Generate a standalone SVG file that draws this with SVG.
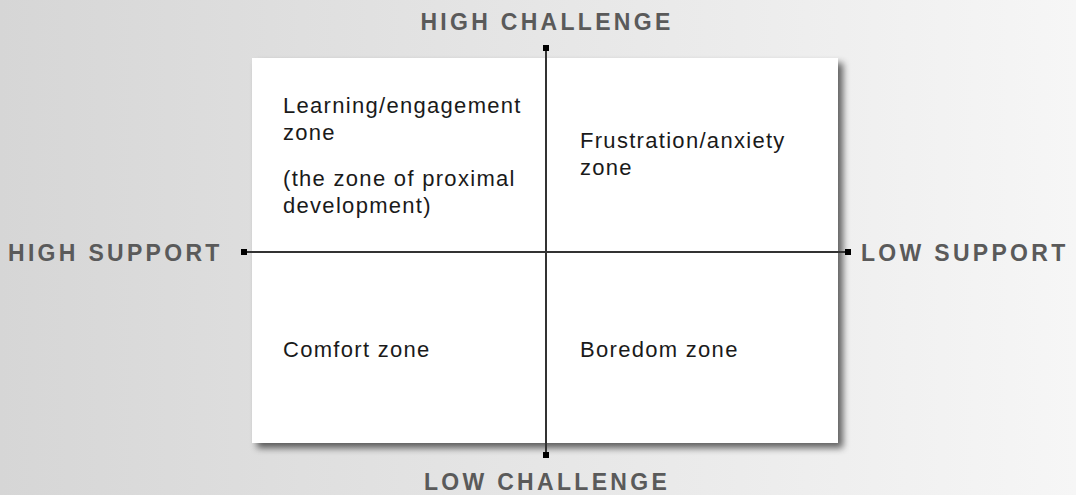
<svg xmlns="http://www.w3.org/2000/svg" width="1076" height="495" viewBox="0 0 1076 495">
<defs>
<linearGradient id="bg" x1="0" y1="0" x2="1" y2="0">
<stop offset="0" stop-color="#d6d6d6"/>
<stop offset="1" stop-color="#f6f6f6"/>
</linearGradient>
<filter id="sh" x="-5%" y="-5%" width="115%" height="115%">
<feGaussianBlur in="SourceAlpha" stdDeviation="3.5"/>
<feOffset dx="5" dy="5" result="b"/>
<feComponentTransfer><feFuncA type="linear" slope="0.6"/></feComponentTransfer>
<feMerge><feMergeNode/><feMergeNode in="SourceGraphic"/></feMerge>
</filter>
<marker id="sq" viewBox="0 0 6 6" refX="3" refY="3" markerWidth="6" markerHeight="6" markerUnits="userSpaceOnUse"><rect width="6" height="6" fill="#000"/></marker>
</defs>
<style>
.ax{font-family:"Liberation Sans",Arial,sans-serif;font-weight:bold;font-size:23px;letter-spacing:3.3px;fill:#5a5a5a}
.q{font-family:"Liberation Sans",Arial,sans-serif;font-size:22px;letter-spacing:1.3px;fill:#1a1a1a}
.ln{stroke:#333;stroke-width:2;fill:none;marker-start:url(#sq);marker-end:url(#sq)}
</style>
<rect width="1076" height="495" fill="url(#bg)"/>
<g id="grid">
<rect x="252" y="58" width="586" height="385" fill="#fff" filter="url(#sh)"/>
</g>
<g id="connectors">
<line class="ln" x1="546" y1="48" x2="546" y2="455"/>
<line class="ln" x1="244" y1="252" x2="848" y2="252"/>
</g>
<g id="axis-top"><text class="ax" x="547" y="30" text-anchor="middle">HIGH CHALLENGE</text></g>
<g id="axis-bottom"><text class="ax" x="547" y="490" text-anchor="middle">LOW CHALLENGE</text></g>
<g id="axis-left"><text class="ax" x="8" y="261">HIGH SUPPORT</text></g>
<g id="axis-right"><text class="ax" x="861" y="261">LOW SUPPORT</text></g>
<g id="q-learning">
<text class="q" x="283" y="113">Learning/engagement</text>
<text class="q" x="283" y="140">zone</text>
<text class="q" x="283" y="186">(the zone of proximal</text>
<text class="q" x="283" y="213">development)</text>
</g>
<g id="q-frustration">
<text class="q" x="580" y="148">Frustration/anxiety</text>
<text class="q" x="580" y="175">zone</text>
</g>
<g id="q-comfort"><text class="q" x="283" y="357">Comfort zone</text></g>
<g id="q-boredom"><text class="q" x="580" y="357">Boredom zone</text></g>
</svg>
